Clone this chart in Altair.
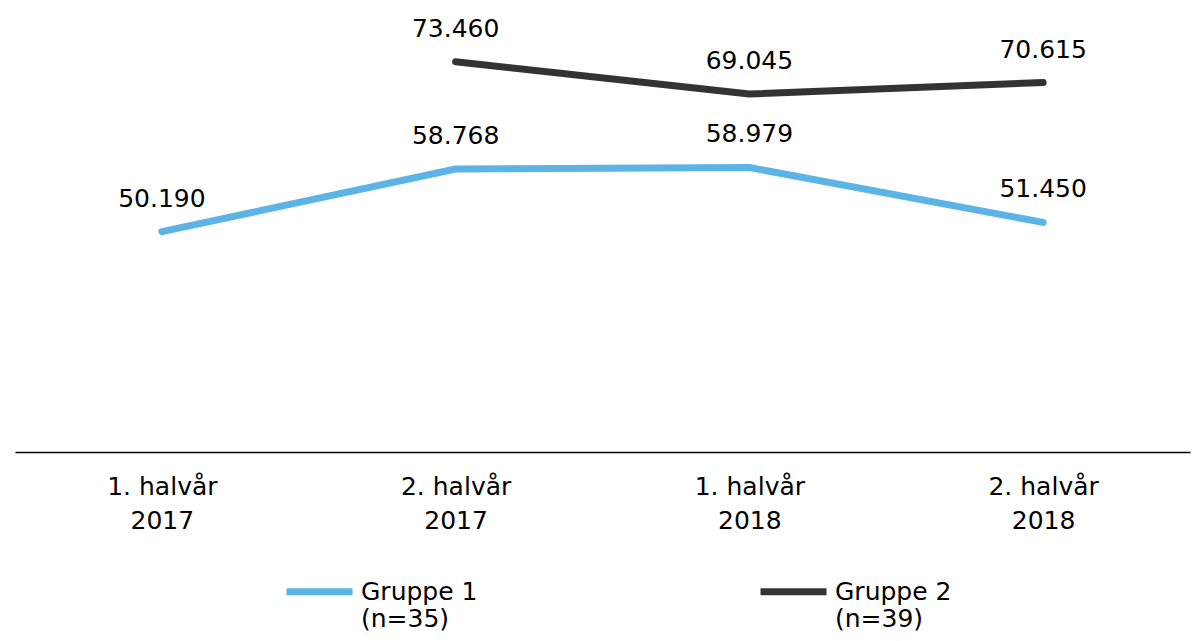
import altair as alt
import pandas as pd

periods = ["1. halvår\n2017", "2. halvår\n2017", "1. halvår\n2018", "2. halvår\n2018"]
series_names = ["Gruppe 1\n(n=35)", "Gruppe 2\n(n=39)"]
gruppe1 = [50190, 58768, 58979, 51450]
gruppe2 = [None, 73460, 69045, 70615]
colors = ["#5BB4E5", "#333333"]

rows = []
for name, vals in zip(series_names, [gruppe1, gruppe2]):
    for p, v in zip(periods, vals):
        if v is not None:
            rows.append({"period": p, "series": name, "value": v})
df = pd.DataFrame(rows)

FONT = "DejaVu Sans"
FS = 25

x = alt.X(
    "period:N",
    sort=periods,
    scale=alt.Scale(type="point", padding=0.5),
    axis=alt.Axis(
        title=None,
        labelAngle=0,
        labelExpr="split(datum.label, '\\n')",
        labelFont=FONT,
        labelFontSize=FS,
        labelColor="#000000",
        labelPadding=22,
        labelLineHeight=34,
        labelBaseline="top",
        ticks=False,
        grid=False,
        domainColor="#000000",
        domainWidth=1.5,
    ),
)
y = alt.Y("value:Q", scale=alt.Scale(domain=[20000, 80000], nice=False, zero=False), axis=None)

color = alt.Color(
    "series:N",
    sort=series_names,
    scale=alt.Scale(domain=series_names, range=colors),
    legend=alt.Legend(
        title=None,
        orient="none",
        legendX=268,
        legendY=541,
        direction="horizontal",
        columns=2,
        columnPadding=268,
        symbolType="stroke",
        symbolSize=4356,
        symbolStrokeWidth=7,
        labelFont=FONT,
        labelFontSize=FS,
        labelColor="#000000",
        labelLimit=400,
        labelOffset=5,
        labelExpr="split(datum.label, '\\n')",
    ),
)

base = alt.Chart(df).encode(x=x, y=y)

lines = base.mark_line(strokeWidth=7, strokeCap="round", strokeJoin="round").encode(color=color)

labels = base.transform_calculate(
    label="replace(format(datum.value, ','), ',', '.')"
).mark_text(dy=-33, baseline="middle", fontSize=FS, font=FONT, color="#000000").encode(
    text="label:N"
)

chart = (
    alt.layer(lines, labels)
    .properties(
        width=1175,
        height=438,
        autosize=alt.AutoSizeParams(type="none"),
        padding={"left": 7, "top": 6, "right": 3, "bottom": 181},
    )
    .configure_view(stroke=None)
)

chart.save("out.html", embed_options={"renderer": "svg", "actions": False})
